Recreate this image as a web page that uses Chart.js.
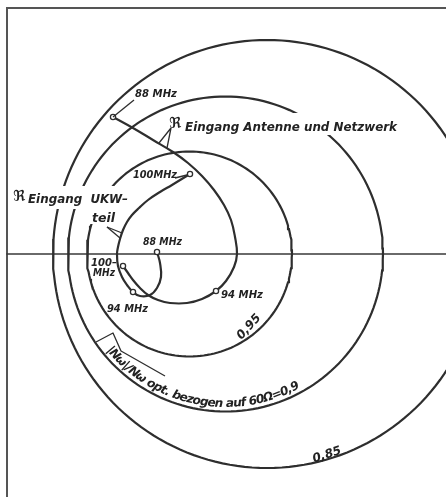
<!DOCTYPE html>
<html><head><meta charset="utf-8">
<script src="https://cdn.jsdelivr.net/npm/chart.js@4/dist/chart.umd.min.js"></script>
<style>html,body{margin:0;padding:0;background:#fff;overflow:hidden}canvas{display:block}</style>
</head><body>
<canvas id="c" width="446" height="497"></canvas>
<script>
// ---- data (plot units: real part to the right, imaginary part up) ----
// circles of constant |Nω|/Nω opt. (referred to 60 Ω)
const circleLevels  = ["0,95", "0,9", "0,85"];
const circleCentres = [182.5, 218.5, 260];
const circleRadii   = [102.5, 157.5, 214];

// ℜ Eingang Antenne und Netzwerk, 88 → 94 → 100 MHz
const antenneRe = [106,126,146,166,181,195,207,217,224,228,230,227,219,209,195,180,163,151,141,133,126,121,116];
const antenneIm = [137,126,114,102,91,78,64,49,34,17,0,-13,-27,-37,-45,-49,-49,-46,-41,-34,-26,-19,-12];
const antenneMarks = [0, 13, 22];
const antenneFreqs = ["88 MHz", "94 MHz", "100 MHz"];

// ℜ Eingang UKW-teil, 100 → 94 → 88 MHz
const ukwRe = [183,165,153,141,132,125,120,116,113,111,110,111,115,120,126,133,143,150,154,153,150];
const ukwIm = [80,69,62,54,46,39,32,24,15,7,0,-12,-23,-31,-38,-42,-41,-34,-23,-9,2];
const ukwMarks = [0, 14, 20];
const ukwFreqs = ["100 MHz", "94 MHz", "88 MHz"];

// plot window
const reRange = [-7, 439];
const imRange = [-243, 254];
const frameTop = 246;

// ---- build datasets ----
const INK = '#2e2e2e';
function circlePts(c, r) {
  const pts = [];
  for (let a = 0; a <= 360; a += 2) {
    const t = a * Math.PI / 180;
    pts.push({x: c + r * Math.cos(t), y: r * Math.sin(t)});
  }
  return pts;
}
const zip = (xs, ys) => xs.map((x, i) => ({x, y: ys[i]}));
const ds = [];
circleRadii.forEach((r, i) => ds.push({
  label: circleLevels[i], data: circlePts(circleCentres[i], r), showLine: true,
  borderColor: INK, borderWidth: 2.2, pointRadius: 0, tension: 0, order: 3
}));
ds.push({label: 'axis', data: [{x: 0, y: 0}, {x: reRange[1], y: 0}], showLine: true,
  borderColor: '#3a3a3a', borderWidth: 1.6, pointRadius: 0, order: 4});
ds.push({label: 'frame', data: [{x: 0, y: imRange[0]}, {x: 0, y: frameTop}, {x: reRange[1], y: frameTop}], showLine: true,
  borderColor: '#555', borderWidth: 2, pointRadius: 0, order: 4});
ds.push({label: 'Antenne und Netzwerk', data: zip(antenneRe, antenneIm), showLine: true,
  borderColor: INK, borderWidth: 2.2, pointRadius: 0, tension: 0.4, order: 2});
ds.push({label: 'UKW-teil', data: zip(ukwRe, ukwIm), showLine: true,
  borderColor: INK, borderWidth: 2.2, pointRadius: 0, tension: 0.4, order: 2});
ds.push({label: 'marks', showLine: false, order: 0,
  data: antenneMarks.map(i => ({x: antenneRe[i], y: antenneIm[i]})).concat(ukwMarks.map(i => ({x: ukwRe[i], y: ukwIm[i]}))),
  pointRadius: 2.6, pointBackgroundColor: '#fff', pointBorderColor: INK, pointBorderWidth: 1.3});

// ---- annotation layout (plot units) ----
const annoLines = [
  [[106,137],[127,154]],                 // leader 88 MHz
  [[152,111],[164,126],[160,106]],       // pointer Antenne
  [[100,27],[115,21]], [[100,27],[113,16]], // pointer UKW
  [[168,76],[180,79]],                   // leader 100 MHz
  [[89,-88],[106,-79],[114,-97],[158,-122]] // fraction bracket
];
const masks = [ // white areas behind labels [x0,y0,x1,y1]
  [176,141,392,119],
  [3,68,123,45],
  [81,45,111,30]
];
const texts = [
  {s:'88 MHz', x:128, y:157, size:11, w:42},
  {s:'ℜ', x:162, y:126, size:15},
  {s:'Eingang Antenne und Netzwerk', x:178, y:123, size:13, w:212},
  {s:'ℜ', x:6, y:53, size:15},
  {s:'Eingang  UKW–', x:21, y:51, size:13, w:100},
  {s:'teil', x:85, y:32, size:13, w:23},
  {s:'100MHz', x:126, y:76, size:11, w:44},
  {s:ukwFreqs[2], x:136, y:9, size:11, w:39},
  {s:'100–', x:84, y:-12, size:11, w:26},
  {s:'MHz', x:86, y:-22, size:11, w:22},
  {s:ukwFreqs[1], x:100, y:-58, size:11, w:41},
  {s:antenneFreqs[1], x:214, y:-44, size:11, w:42},
  {s:circleLevels[0], x:242, y:-73, size:12, rot:-48, center:true},
  {s:circleLevels[2], x:320, y:-201, size:12, rot:-18, center:true}
];
const arcLabel = {s:'|Nω|/Nω opt. bezogen auf 60Ω=' + circleLevels[1], circle:1, r:153, a0:141, a1:61, size:12};

const FONT = "'DejaVu Sans', 'Liberation Sans', sans-serif";
const annoPlugin = {
  id: 'anno',
  afterDatasetsDraw(chart) {
    const ctx = chart.ctx, sx = chart.scales.x, sy = chart.scales.y;
    const P = (x, y) => [sx.getPixelForValue(x), sy.getPixelForValue(y)];
    ctx.save();
    ctx.fillStyle = '#fff';
    masks.forEach(m => { const a = P(m[0], m[1]), b = P(m[2], m[3]); ctx.fillRect(a[0], a[1], b[0]-a[0], b[1]-a[1]); });
    ctx.strokeStyle = INK; ctx.lineWidth = 1.3; ctx.lineJoin = 'round';
    annoLines.forEach(l => { ctx.beginPath(); l.forEach((p, i) => { const q = P(p[0], p[1]); i ? ctx.lineTo(q[0], q[1]) : ctx.moveTo(q[0], q[1]); }); ctx.stroke(); });
    ctx.fillStyle = '#222';
    texts.forEach(t => {
      const q = P(t.x, t.y);
      ctx.save();
      ctx.font = `italic bold ${t.size}px ${FONT}`;
      ctx.translate(q[0], q[1]);
      if (t.rot) ctx.rotate(t.rot * Math.PI / 180);
      const mw = ctx.measureText(t.s).width;
      if (t.w) ctx.scale(t.w / mw, 1);
      ctx.textAlign = t.center ? 'center' : 'left';
      ctx.textBaseline = t.center ? 'middle' : 'alphabetic';
      ctx.fillText(t.s, 0, 0);
      ctx.restore();
    });
    // curved label along circle
    const c = P(circleCentres[arcLabel.circle], 0);
    ctx.font = `italic bold ${arcLabel.size}px ${FONT}`;
    const chars = [...arcLabel.s];
    const ws = chars.map(ch => ctx.measureText(ch).width);
    const total = ws.reduce((a, b) => a + b, 0);
    const r = arcLabel.r;
    const span = (arcLabel.a0 - arcLabel.a1) * Math.PI / 180 * r;
    const k = span / total;
    let a = arcLabel.a0 * Math.PI / 180;
    ctx.textAlign = 'center'; ctx.textBaseline = 'alphabetic';
    chars.forEach((ch, i) => {
      const w = ws[i] * k;
      const am = a - (w / 2) / r;
      ctx.save();
      ctx.translate(c[0] + r * Math.cos(am), c[1] + r * Math.sin(am));
      ctx.rotate(am - Math.PI / 2);
      ctx.fillText(ch, 0, 0);
      ctx.restore();
      a -= w / r;
    });
    ctx.restore();
  }
};

new Chart(document.getElementById('c'), {
  type: 'scatter',
  data: {datasets: ds},
  options: {
    responsive: false, animation: false, devicePixelRatio: 1,
    layout: {padding: 0, autoPadding: false},
    scales: {
      x: {type: 'linear', min: reRange[0], max: reRange[1], display: false},
      y: {type: 'linear', min: imRange[0], max: imRange[1], display: false}
    },
    plugins: {legend: {display: false}, tooltip: {enabled: false}},
    elements: {line: {borderCapStyle: 'round'}}
  },
  plugins: [annoPlugin]
});
</script>
</body></html>
